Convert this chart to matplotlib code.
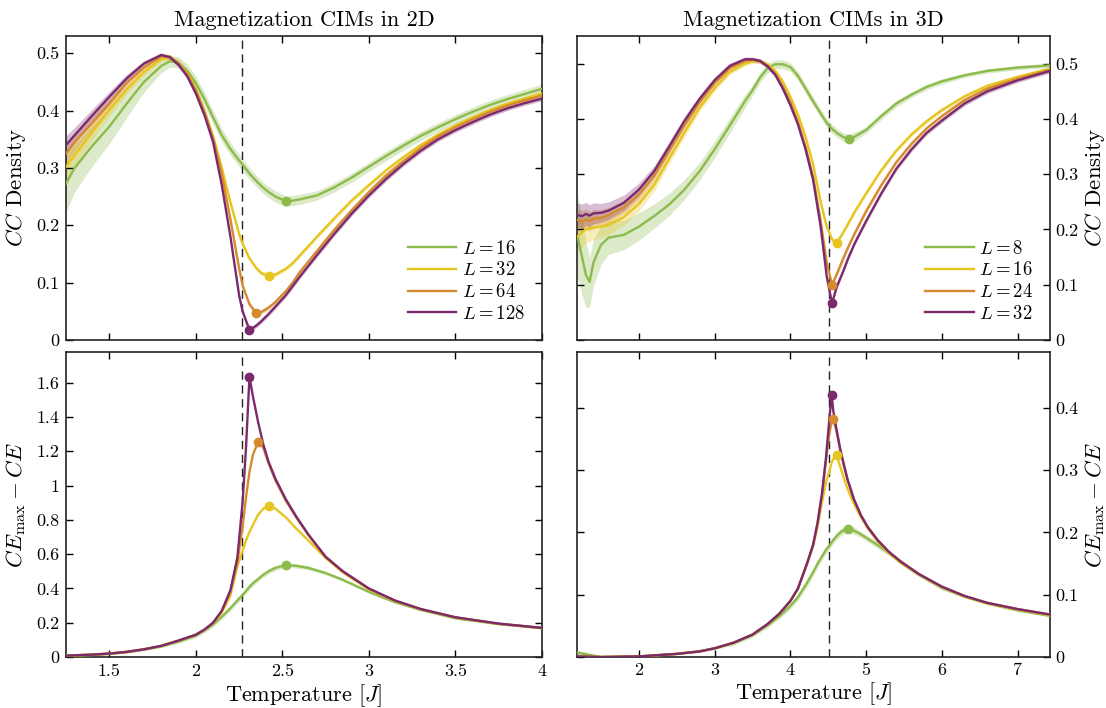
import matplotlib
matplotlib.use("Agg")
import matplotlib.pyplot as plt
from matplotlib.ticker import FuncFormatter, MultipleLocator

plt.rcParams["font.family"] = "serif"
plt.rcParams["font.serif"] = ["cmr10"]
plt.rcParams["mathtext.fontset"] = "cm"
plt.rcParams["axes.formatter.use_mathtext"] = True
plt.rcParams["axes.unicode_minus"] = False

# colours of the four system sizes (small -> large)
colors = ["#8cbb4c", "#e6c51e", "#d68a2e", "#7b2a6d"]

# ---------------- 2D, connected-component density ----------------
tc_2d = 2.269
labels_2d = ["16", "32", "64", "128"]
T_cc2d = [1.25, 1.3, 1.4, 1.5, 1.6, 1.7, 1.8, 1.85, 1.9, 1.95,
          2.0, 2.05, 2.1, 2.15, 2.2, 2.25, 2.27, 2.31, 2.35, 2.38,
          2.42, 2.46, 2.52, 2.56, 2.6, 2.7, 2.8, 2.9, 3.0, 3.1,
          3.2, 3.3, 3.4, 3.5, 3.6, 3.7, 3.8, 3.9, 4.0]
cc2d_16 = [0.273, 0.300, 0.338, 0.372, 0.412, 0.450, 0.478, 0.486, 0.484, 0.470,
           0.448, 0.420, 0.388, 0.357, 0.333, 0.313, 0.306, 0.290, 0.277, 0.268,
           0.258, 0.250, 0.242, 0.243, 0.245, 0.252, 0.266, 0.283, 0.302, 0.321,
           0.339, 0.356, 0.371, 0.385, 0.398, 0.410, 0.420, 0.429, 0.438]
cc2d_32 = [0.302, 0.322, 0.362, 0.401, 0.437, 0.467, 0.490, 0.492, 0.484, 0.466,
           0.438, 0.400, 0.355, 0.300, 0.240, 0.185, 0.168, 0.142, 0.125, 0.116,
           0.112, 0.114, 0.124, 0.134, 0.147, 0.180, 0.212, 0.243, 0.270, 0.296,
           0.319, 0.340, 0.358, 0.374, 0.388, 0.401, 0.412, 0.421, 0.430]
cc2d_64 = [0.325, 0.345, 0.378, 0.412, 0.448, 0.475, 0.495, 0.494, 0.483, 0.464,
           0.435, 0.398, 0.352, 0.290, 0.210, 0.125, 0.095, 0.062, 0.046, 0.049,
           0.056, 0.066, 0.085, 0.100, 0.118, 0.155, 0.192, 0.226, 0.258, 0.287,
           0.312, 0.335, 0.355, 0.371, 0.385, 0.398, 0.409, 0.418, 0.426]
cc2d_128 = [0.340, 0.357, 0.391, 0.424, 0.456, 0.482, 0.497, 0.493, 0.480, 0.460,
            0.430, 0.392, 0.345, 0.270, 0.180, 0.078, 0.050, 0.017, 0.025, 0.033,
            0.045, 0.058, 0.078, 0.094, 0.110, 0.148, 0.185, 0.220, 0.252, 0.281,
            0.307, 0.330, 0.350, 0.366, 0.380, 0.393, 0.404, 0.413, 0.421]
err_cc2d_16 = [0.050, 0.042, 0.035, 0.030, 0.024, 0.018, 0.012, 0.010, 0.010, 0.011,
               0.012, 0.012, 0.012, 0.012, 0.011, 0.011, 0.011, 0.010, 0.010, 0.010,
               0.010, 0.010, 0.009, 0.009, 0.009, 0.008, 0.008, 0.008, 0.008, 0.008,
               0.008, 0.008, 0.008, 0.008, 0.008, 0.008, 0.008, 0.008, 0.008]
err_cc2d_32 = [0.022, 0.018, 0.014, 0.011, 0.008, 0.006, 0.005, 0.004, 0.004, 0.004,
               0.004, 0.004, 0.004, 0.004, 0.004, 0.004, 0.004, 0.004, 0.004, 0.004,
               0.004, 0.004, 0.004, 0.004, 0.004, 0.004, 0.004, 0.004, 0.004, 0.004,
               0.004, 0.004, 0.004, 0.004, 0.004, 0.004, 0.004, 0.004, 0.004]
err_cc2d_64 = [0.018, 0.015, 0.012, 0.009, 0.007, 0.005, 0.004, 0.004, 0.004, 0.004,
               0.004, 0.004, 0.004, 0.004, 0.004, 0.004, 0.004, 0.004, 0.004, 0.004,
               0.004, 0.004, 0.004, 0.004, 0.004, 0.004, 0.004, 0.004, 0.004, 0.004,
               0.004, 0.004, 0.004, 0.004, 0.004, 0.004, 0.004, 0.004, 0.004]
err_cc2d_128 = [0.016, 0.014, 0.011, 0.009, 0.007, 0.005, 0.004, 0.004, 0.004, 0.004,
                0.004, 0.004, 0.004, 0.004, 0.004, 0.004, 0.004, 0.004, 0.004, 0.004,
                0.004, 0.004, 0.004, 0.004, 0.004, 0.004, 0.004, 0.004, 0.004, 0.004,
                0.004, 0.004, 0.004, 0.004, 0.004, 0.004, 0.004, 0.004, 0.004]

# ---------------- 3D, connected-component density ----------------
tc_3d = 4.511
labels_3d = ["8", "16", "24", "32"]
T_cc3d = [1.19, 1.25, 1.3, 1.35, 1.4, 1.5, 1.6, 1.8, 2.0, 2.2,
          2.4, 2.6, 2.8, 3.0, 3.2, 3.4, 3.5, 3.6, 3.7, 3.8,
          3.9, 4.0, 4.1, 4.2, 4.3, 4.4, 4.48, 4.55, 4.61, 4.7,
          4.77, 4.85, 5.0, 5.2, 5.4, 5.6, 5.8, 6.0, 6.3, 6.6,
          7.0, 7.43]
cc3d_8 = [0.187, 0.150, 0.118, 0.105, 0.140, 0.172, 0.185, 0.190, 0.205, 0.224,
          0.245, 0.272, 0.305, 0.345, 0.388, 0.432, 0.452, 0.475, 0.492, 0.499,
          0.499, 0.494, 0.478, 0.455, 0.432, 0.410, 0.393, 0.382, 0.375, 0.367,
          0.364, 0.368, 0.380, 0.405, 0.428, 0.444, 0.458, 0.468, 0.479, 0.487,
          0.493, 0.497]
cc3d_16 = [0.187, 0.195, 0.200, 0.202, 0.203, 0.205, 0.208, 0.222, 0.246, 0.280,
           0.328, 0.375, 0.420, 0.456, 0.485, 0.500, 0.504, 0.505, 0.499, 0.487,
           0.468, 0.440, 0.408, 0.368, 0.318, 0.250, 0.205, 0.182, 0.175, 0.195,
           0.212, 0.232, 0.265, 0.307, 0.343, 0.372, 0.396, 0.416, 0.441, 0.460,
           0.476, 0.491]
cc3d_24 = [0.217, 0.214, 0.218, 0.215, 0.219, 0.221, 0.226, 0.240, 0.263, 0.296,
           0.342, 0.388, 0.430, 0.465, 0.492, 0.505, 0.507, 0.505, 0.496, 0.482,
           0.459, 0.430, 0.395, 0.350, 0.295, 0.215, 0.140, 0.100, 0.118, 0.148,
           0.170, 0.193, 0.233, 0.280, 0.322, 0.355, 0.383, 0.405, 0.434, 0.455,
           0.473, 0.489]
cc3d_32 = [0.226, 0.224, 0.228, 0.225, 0.229, 0.230, 0.234, 0.248, 0.272, 0.305,
           0.350, 0.396, 0.436, 0.470, 0.496, 0.508, 0.508, 0.505, 0.495, 0.480,
           0.455, 0.425, 0.390, 0.345, 0.290, 0.205, 0.115, 0.066, 0.095, 0.125,
           0.150, 0.175, 0.215, 0.265, 0.310, 0.345, 0.375, 0.397, 0.428, 0.450,
           0.470, 0.487]
err_cc3d_8 = [0.075, 0.070, 0.060, 0.045, 0.042, 0.035, 0.030, 0.027, 0.025, 0.022,
              0.020, 0.018, 0.016, 0.015, 0.014, 0.012, 0.010, 0.009, 0.009, 0.008,
              0.008, 0.008, 0.008, 0.008, 0.008, 0.008, 0.008, 0.008, 0.008, 0.008,
              0.008, 0.008, 0.006, 0.006, 0.006, 0.005, 0.005, 0.005, 0.004, 0.004,
              0.004, 0.004]
err_cc3d_16 = [0.028, 0.026, 0.025, 0.024, 0.022, 0.020, 0.018, 0.015, 0.013, 0.011,
               0.009, 0.008, 0.007, 0.006, 0.005, 0.004, 0.004, 0.004, 0.004, 0.004,
               0.004, 0.004, 0.004, 0.004, 0.004, 0.004, 0.004, 0.004, 0.004, 0.004,
               0.004, 0.004, 0.004, 0.004, 0.004, 0.004, 0.004, 0.004, 0.004, 0.004,
               0.004, 0.004]
err_cc3d_24 = [0.020, 0.020, 0.019, 0.018, 0.017, 0.015, 0.014, 0.012, 0.010, 0.009,
               0.008, 0.007, 0.006, 0.005, 0.004, 0.004, 0.004, 0.004, 0.004, 0.004,
               0.004, 0.004, 0.004, 0.004, 0.004, 0.004, 0.004, 0.004, 0.004, 0.004,
               0.004, 0.004, 0.004, 0.004, 0.004, 0.004, 0.004, 0.004, 0.004, 0.004,
               0.004, 0.004]
err_cc3d_32 = [0.022, 0.022, 0.021, 0.020, 0.019, 0.017, 0.016, 0.014, 0.012, 0.010,
               0.009, 0.008, 0.007, 0.006, 0.005, 0.004, 0.004, 0.004, 0.004, 0.004,
               0.004, 0.004, 0.004, 0.004, 0.004, 0.004, 0.004, 0.004, 0.004, 0.004,
               0.004, 0.004, 0.004, 0.004, 0.004, 0.004, 0.004, 0.004, 0.004, 0.004,
               0.004, 0.004]

# ---------------- 2D, CE_max - CE ----------------
T_ce2d = [1.25, 1.4, 1.5, 1.6, 1.7, 1.8, 1.9, 2.0, 2.05, 2.1,
          2.15, 2.2, 2.24, 2.27, 2.29, 2.31, 2.33, 2.36, 2.39, 2.42,
          2.46, 2.52, 2.58, 2.65, 2.75, 2.85, 3.0, 3.15, 3.3, 3.5,
          3.75, 4.0]
ce2d_16 = [0.006, 0.012, 0.018, 0.028, 0.043, 0.062, 0.090, 0.125, 0.155, 0.190,
           0.235, 0.285, 0.330, 0.362, 0.385, 0.410, 0.430, 0.455, 0.480, 0.500,
           0.520, 0.536, 0.532, 0.520, 0.490, 0.450, 0.380, 0.320, 0.275, 0.226,
           0.192, 0.168]
ce2d_32 = [0.008, 0.014, 0.020, 0.030, 0.045, 0.065, 0.095, 0.130, 0.160, 0.198,
           0.260, 0.360, 0.530, 0.620, 0.680, 0.730, 0.770, 0.830, 0.865, 0.880,
           0.865, 0.815, 0.750, 0.680, 0.578, 0.493, 0.394, 0.327, 0.278, 0.231,
           0.194, 0.169]
ce2d_64 = [0.008, 0.014, 0.020, 0.030, 0.045, 0.065, 0.096, 0.130, 0.160, 0.200,
           0.268, 0.380, 0.550, 0.760, 0.930, 1.080, 1.180, 1.255, 1.220, 1.130,
           1.030, 0.912, 0.815, 0.712, 0.583, 0.498, 0.398, 0.329, 0.279, 0.231,
           0.194, 0.170]
ce2d_128 = [0.008, 0.014, 0.020, 0.030, 0.045, 0.065, 0.096, 0.130, 0.160, 0.200,
            0.270, 0.390, 0.580, 0.900, 1.220, 1.635, 1.520, 1.370, 1.240, 1.140,
            1.040, 0.920, 0.820, 0.715, 0.585, 0.500, 0.400, 0.330, 0.280, 0.232,
            0.195, 0.170]
err_ce2d_16 = [0.003, 0.004, 0.005, 0.006, 0.007, 0.008, 0.010, 0.012, 0.013, 0.014,
               0.015, 0.016, 0.016, 0.016, 0.016, 0.016, 0.016, 0.016, 0.015, 0.015,
               0.015, 0.014, 0.013, 0.012, 0.010, 0.009, 0.007, 0.006, 0.005, 0.004,
               0.003, 0.003]

# ---------------- 3D, CE_max - CE ----------------
T_ce3d = [1.19, 1.5, 2.0, 2.5, 2.8, 3.0, 3.25, 3.5, 3.7, 3.85,
          4.0, 4.1, 4.22, 4.3, 4.36, 4.42, 4.47, 4.51, 4.545, 4.567,
          4.61, 4.66, 4.71, 4.755, 4.84, 4.93, 5.02, 5.15, 5.3, 5.46,
          5.7, 6.0, 6.3, 6.6, 7.0, 7.44]
ce3d_8 = [0.007, 0.000, 0.001, 0.005, 0.009, 0.014, 0.022, 0.035, 0.051, 0.065,
          0.082, 0.096, 0.119, 0.136, 0.150, 0.162, 0.172, 0.178, 0.184, 0.188,
          0.194, 0.200, 0.204, 0.206, 0.203, 0.197, 0.190, 0.180, 0.167, 0.152,
          0.132, 0.111, 0.097, 0.086, 0.075, 0.066]
ce3d_16 = [0.001, 0.000, 0.001, 0.005, 0.009, 0.014, 0.023, 0.036, 0.053, 0.069,
           0.090, 0.110, 0.150, 0.178, 0.210, 0.250, 0.280, 0.296, 0.312, 0.318,
           0.324, 0.305, 0.286, 0.270, 0.246, 0.225, 0.207, 0.186, 0.167, 0.151,
           0.132, 0.112, 0.097, 0.086, 0.076, 0.067]
ce3d_24 = [0.001, 0.000, 0.001, 0.005, 0.009, 0.014, 0.023, 0.036, 0.053, 0.069,
           0.090, 0.110, 0.150, 0.180, 0.216, 0.262, 0.315, 0.355, 0.378, 0.382,
           0.362, 0.331, 0.306, 0.285, 0.253, 0.228, 0.209, 0.188, 0.169, 0.153,
           0.133, 0.113, 0.098, 0.087, 0.077, 0.068]
ce3d_32 = [0.001, 0.000, 0.001, 0.005, 0.009, 0.014, 0.023, 0.036, 0.053, 0.069,
           0.090, 0.110, 0.150, 0.180, 0.216, 0.265, 0.320, 0.375, 0.421, 0.395,
           0.365, 0.333, 0.307, 0.285, 0.253, 0.228, 0.209, 0.188, 0.169, 0.153,
           0.133, 0.113, 0.098, 0.087, 0.077, 0.068]
err_ce3d_8 = [0.004, 0.001, 0.001, 0.001, 0.002, 0.002, 0.003, 0.003, 0.004, 0.004,
              0.005, 0.005, 0.006, 0.006, 0.006, 0.006, 0.006, 0.006, 0.006, 0.006,
              0.006, 0.006, 0.006, 0.006, 0.006, 0.005, 0.005, 0.005, 0.004, 0.004,
              0.003, 0.003, 0.002, 0.002, 0.002, 0.002]


def fmt(v, pos):
    return f"{v:g}"


def style_axes(ax, right=False, show_x=True):
    ax.tick_params(which="both", direction="in", top=True, right=True,
                   length=5, width=1.0, labelsize=13, pad=5)
    if right:
        ax.yaxis.tick_right()
        ax.yaxis.set_label_position("right")
        ax.tick_params(left=True, pad=4)
    if not show_x:
        ax.tick_params(labelbottom=False)
    for s in ax.spines.values():
        s.set_linewidth(1.2)
        s.set_color("#222222")
    ax.yaxis.set_major_formatter(FuncFormatter(fmt))
    ax.xaxis.set_major_formatter(FuncFormatter(fmt))


def draw_panel(ax, T, series, errs, labels, tc, marker, legend):
    for i, y in enumerate(series):
        c = colors[i]
        if errs[i] is not None:
            lo = [a - e for a, e in zip(y, errs[i])]
            hi = [a + e for a, e in zip(y, errs[i])]
            ax.fill_between(T, lo, hi, color=c, alpha=0.3, lw=0)
        ax.plot(T, y, color=c, lw=1.7, label=rf"$L = {labels[i]}$", zorder=3)
        # extremum is searched only around the transition
        near = [j for j, t in enumerate(T) if t > tc - 0.4]
        if marker == "min":
            k = min(near, key=lambda j: y[j])
        else:
            k = max(near, key=lambda j: y[j])
        ax.plot(T[k], y[k], "o", color=c, ms=6, zorder=4)
    ax.axvline(tc, color="#222222", lw=1.0, ls=(0, (6, 4)), zorder=2)
    if legend:
        ax.legend(loc="lower right", frameon=False, fontsize=13.5,
                  handlelength=2.6, labelspacing=0.2, handletextpad=0.3,
                  borderaxespad=0.5)


fig = plt.figure(figsize=(11.06, 7.08), dpi=100)

ax1 = fig.add_axes([0.0597, 0.520, 0.4303, 0.429])
ax2 = fig.add_axes([0.5215, 0.520, 0.4280, 0.429])
ax3 = fig.add_axes([0.0597, 0.072, 0.4303, 0.431])
ax4 = fig.add_axes([0.5215, 0.072, 0.4280, 0.431])

draw_panel(ax1, T_cc2d, [cc2d_16, cc2d_32, cc2d_64, cc2d_128],
           [err_cc2d_16, err_cc2d_32, err_cc2d_64, err_cc2d_128],
           labels_2d, tc_2d, "min", True)
draw_panel(ax2, T_cc3d, [cc3d_8, cc3d_16, cc3d_24, cc3d_32],
           [err_cc3d_8, err_cc3d_16, err_cc3d_24, err_cc3d_32],
           labels_3d, tc_3d, "min", True)
draw_panel(ax3, T_ce2d, [ce2d_16, ce2d_32, ce2d_64, ce2d_128],
           [err_ce2d_16, None, None, None], labels_2d, tc_2d, "max", False)
draw_panel(ax4, T_ce3d, [ce3d_8, ce3d_16, ce3d_24, ce3d_32],
           [err_ce3d_8, None, None, None], labels_3d, tc_3d, "max", False)

for ax in (ax1, ax3):
    ax.set_xlim(1.25, 4.0)
    ax.xaxis.set_major_locator(MultipleLocator(0.5))
for ax in (ax2, ax4):
    ax.set_xlim(1.18, 7.43)
    ax.xaxis.set_major_locator(MultipleLocator(1))

ax1.set_ylim(0, 0.53)
ax1.yaxis.set_major_locator(MultipleLocator(0.1))
ax2.set_ylim(0, 0.55)
ax2.yaxis.set_major_locator(MultipleLocator(0.1))
ax3.set_ylim(0, 1.78)
ax3.yaxis.set_major_locator(MultipleLocator(0.2))
ax4.set_ylim(0, 0.49)
ax4.yaxis.set_major_locator(MultipleLocator(0.1))

style_axes(ax1, right=False, show_x=False)
style_axes(ax2, right=True, show_x=False)
style_axes(ax3, right=False, show_x=True)
style_axes(ax4, right=True, show_x=True)

ax1.set_title("Magnetization CIMs in 2D", fontsize=16, pad=7)
ax2.set_title("Magnetization CIMs in 3D", fontsize=16, pad=7)
ax1.set_ylabel(r"$CC$ Density", fontsize=16.5, labelpad=6)
ax2.set_ylabel(r"$CC$ Density", fontsize=16.5, labelpad=3)
ax3.set_ylabel(r"$CE_{\mathrm{max}}-CE$", fontsize=16.5, labelpad=6)
ax4.set_ylabel(r"$CE_{\mathrm{max}}-CE$", fontsize=16.5, labelpad=3)
ax3.set_xlabel(r"Temperature $[J]$", fontsize=16, labelpad=2)
ax4.set_xlabel(r"Temperature $[J]$", fontsize=16, labelpad=2)

fig.savefig("out.png", dpi=100)
